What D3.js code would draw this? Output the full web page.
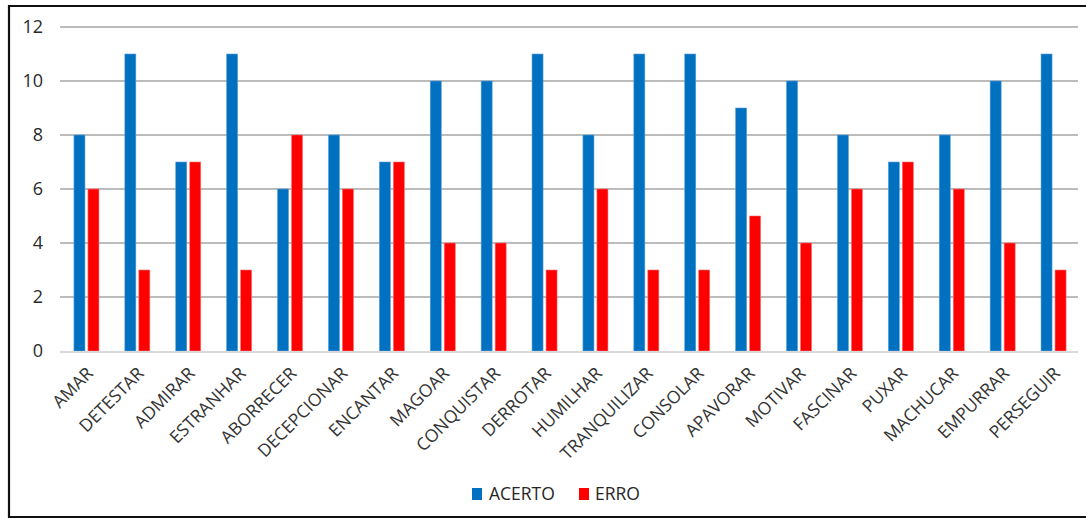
<!DOCTYPE html>
<html>
<head>
<meta charset="utf-8">
<script src="https://cdn.jsdelivr.net/npm/d3@7"></script>
<style>
  html, body { margin: 0; padding: 0; background: #fff; }
  svg { display: block; font-family: "Open Sans", "Liberation Sans", sans-serif; }
</style>
</head>
<body>
<svg id="chart" width="1086" height="519"></svg>
<script>
// Verbs and the number of correct / wrong answers for each
const categories = ["AMAR", "DETESTAR", "ADMIRAR", "ESTRANHAR", "ABORRECER", "DECEPCIONAR",
  "ENCANTAR", "MAGOAR", "CONQUISTAR", "DERROTAR", "HUMILHAR", "TRANQUILIZAR", "CONSOLAR",
  "APAVORAR", "MOTIVAR", "FASCINAR", "PUXAR", "MACHUCAR", "EMPURRAR", "PERSEGUIR"];
const acerto = [8, 11, 7, 11, 6, 8, 7, 10, 10, 11, 8, 11, 11, 9, 10, 8, 7, 8, 10, 11];
const erro   = [6, 3, 7, 3, 8, 6, 7, 4, 4, 3, 6, 3, 3, 5, 4, 6, 7, 6, 4, 3];
const seriesNames = ["ACERTO", "ERRO"];
const yTicks = [0, 2, 4, 6, 8, 10, 12];

const colors = { ACERTO: "#0070c0", ERRO: "#ff0000" };
const svg = d3.select("#chart");

// outer frame (right edge runs off the canvas)
svg.append("path")
  .attr("d", "M1090,6 H9 V517 H1090")
  .attr("fill", "none").attr("stroke", "#111").attr("stroke-width", 2.2);

const plot = { left: 60, right: 1078, top: 27, bottom: 351 };

const x = d3.scaleBand().domain(categories).range([plot.left, plot.right]).padding(0);
const y = d3.scaleLinear().domain([0, 12]).range([plot.bottom, plot.top]);

// horizontal gridlines
svg.append("g").selectAll("line")
  .data(yTicks.filter(t => t > 0))
  .join("line")
  .attr("x1", plot.left).attr("x2", plot.right)
  .attr("y1", d => y(d)).attr("y2", d => y(d))
  .attr("stroke", "#a6a6a6").attr("stroke-width", 1.5);

// y axis labels
const yAxis = d3.axisLeft(y).tickValues(yTicks).tickSize(0).tickPadding(0).tickFormat(d3.format("d"));
svg.append("g")
  .attr("transform", `translate(43,0)`)
  .call(yAxis)
  .call(g => g.select(".domain").remove())
  .selectAll("text")
  .attr("font-size", 18).attr("fill", "#2a2a2a")
  .attr("font-family", "'Open Sans', sans-serif");

// grouped bars
const barW = 11, gap = 3;
const inner = d3.scaleOrdinal().domain(seriesNames)
  .range([-gap / 2 - barW, gap / 2]);

const rows = categories.map((c, i) => ({ c, ACERTO: acerto[i], ERRO: erro[i] }));
const groups = svg.append("g").selectAll("g")
  .data(rows).join("g")
  .attr("transform", d => `translate(${x(d.c) + x.bandwidth() / 2 + 1},0)`);

groups.selectAll("rect")
  .data(d => seriesNames.map(s => ({ s, v: d[s] })))
  .join("rect")
  .attr("x", d => inner(d.s))
  .attr("width", barW)
  .attr("y", d => y(d.v))
  .attr("height", d => y(0) - y(d.v))
  .attr("fill", d => colors[d.s])
  .attr("stroke", d => d.s === "ACERTO" ? "#5a9fd8" : "#ff7070")
  .attr("stroke-width", 0.6);

// category axis baseline
svg.append("line")
  .attr("x1", plot.left).attr("x2", plot.right)
  .attr("y1", y(0) + 1).attr("y2", y(0) + 1)
  .attr("stroke", "#d9d9d9").attr("stroke-width", 2);

// rotated category labels
svg.append("g").selectAll("text")
  .data(categories).join("text")
  .attr("transform", d => `translate(${x(d) + x.bandwidth() / 2},${366}) rotate(-45)`)
  .attr("text-anchor", "end")
  .attr("dy", "0.7em")
  .attr("font-size", 17.5)
  .attr("fill", "#333")
  .text(d => d);

// legend
const legend = svg.append("g");
const legendItems = [
  { s: "ACERTO", sx: 472, tx: 489 },
  { s: "ERRO", sx: 579, tx: 595 }
];
legend.selectAll("rect").data(legendItems).join("rect")
  .attr("x", d => d.sx).attr("y", 488).attr("width", 10).attr("height", 12)
  .attr("fill", d => colors[d.s]);
legend.selectAll("text").data(legendItems).join("text")
  .attr("x", d => d.tx).attr("y", 500)
  .attr("font-size", 17.5).attr("fill", "#262626")
  .text(d => d.s);
</script>
</body>
</html>
